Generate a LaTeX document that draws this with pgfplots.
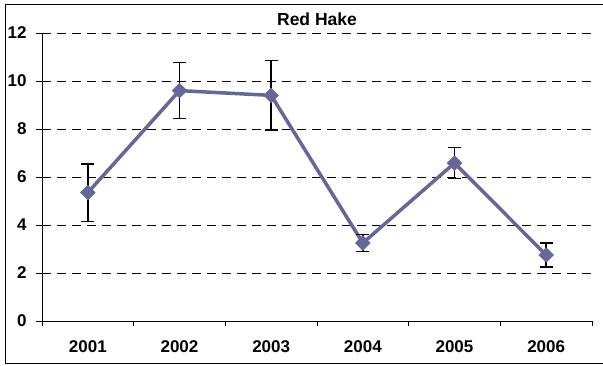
\documentclass[border=0pt]{standalone}
\usepackage{fontspec}
\setmainfont{Liberation Sans}
\usepackage{pgfplots}
\pgfplotsset{compat=1.18}
\definecolor{lineblue}{RGB}{102,102,153}
\begin{document}
\begin{tikzpicture}[x=1pt,y=1pt]
\path[use as bounding box] (0,0) rectangle (603,365);
\draw[black, line width=1pt] (5.5,2) rectangle (620,360.5);
\begin{axis}[
  at={(42pt,44pt)}, anchor=south west,
  scale only axis, width=550pt, height=288pt,
  xmin=0.5, xmax=6.5, ymin=0, ymax=12,
  axis lines=left, axis line style={-, line width=0.8pt},
  xtick={1,...,6}, xticklabels={2001,2002,2003,2004,2005,2006},
  major x tick style={draw=none},
  minor xtick={0.5,1.5,...,6.5},
  minor x tick style={black, line width=0.8pt},
  minor tick length=5pt,
  ytick={0,2,...,12},
  major tick length=6pt,
  tick align=outside,
  y tick style={black, line width=0.8pt},
  ymajorgrids,
  major grid style={black, line width=0.9pt, dash pattern=on 9pt off 6pt},
  /pgf/number format/assume math mode=true,
  ticklabel style={font=\fontsize{17}{20}\selectfont\bfseries},
  xticklabel style={yshift=-10pt},
  yticklabel style={xshift=-6pt},
  title={Red Hake},
  title style={font=\fontsize{17.5}{20}\selectfont\bfseries, at={(0.5,1)}, anchor=south, yshift=-2pt},
  clip=false,
]
\addplot[color=lineblue, line width=3.5pt, mark=square*, mark size=5.2pt,
  mark options={rotate=45, fill=lineblue, draw=lineblue, line width=0.5pt},
  error bars/.cd, y dir=both, y explicit,
  error bar style={black, line width=1.5pt},
  error mark options={rotate=90, black, line width=1.5pt, mark size=6.5pt}]
  table[x=x, y=y, y error=e] {
x y e
1 5.35 1.2
2 9.6 1.17
3 9.4 1.45
4 3.25 0.35
5 6.58 0.64
6 2.75 0.5
};
\end{axis}
\end{tikzpicture}
\end{document}
